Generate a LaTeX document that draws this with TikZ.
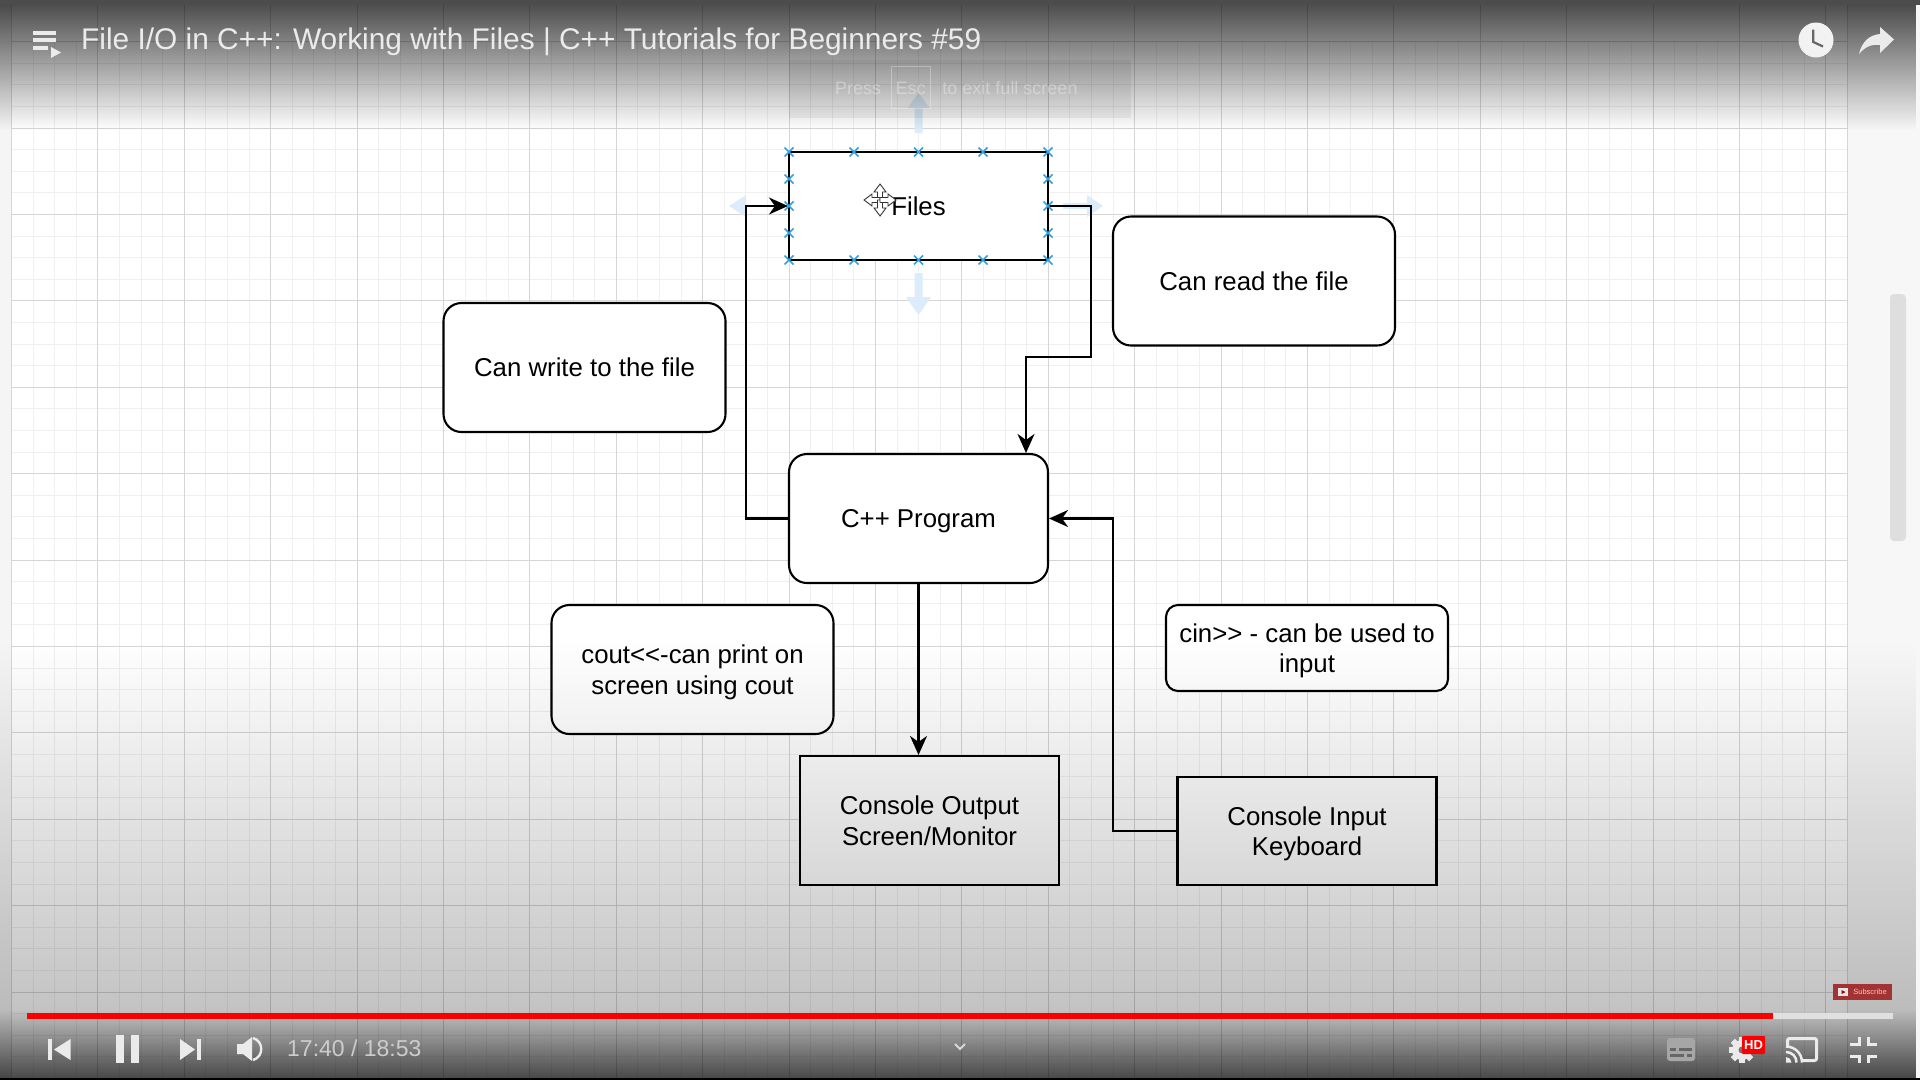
\documentclass[tikz,border=0pt]{standalone}
\usepackage{fontspec}
\setmainfont{Liberation Sans}
\usepackage{tikz}
\usetikzlibrary{arrows.meta}
\usetikzlibrary{positioning,fadings,shapes.misc}

\definecolor{hintblue}{RGB}{220,236,250}
\definecolor{handleblue}{RGB}{50,160,220}
\definecolor{ytred}{RGB}{250,0,0}
\newcommand{\lineup}{\rule[-6pt]{0pt}{30.5pt}}

\tikzset{
    softbox/.style={draw=black, fill=white, line width=2.1pt, rounded corners=18pt, align=center, font=\fontsize{25.8}{30.5}\selectfont},
    sharpbox/.style={draw=black, fill=white, line width=2.1pt, align=center, font=\fontsize{25.8}{30.5}\selectfont},
    link/.style={draw=black, line width=2.1pt, -{Stealth[length=19pt,width=17pt,inset=6pt]}},
    minorline/.style={black!6, line width=0.8pt},
    majorline/.style={black!16, line width=1pt},
    handlemark/.style={cross out, draw=handleblue, line width=1.5pt, minimum size=7.5pt, inner sep=0pt},
    chrome/.style={white!92!black},
    titletext/.style={text=white!92!black, font=\fontsize{29.86}{34}\selectfont},
}
\tikzfading[name=fadetop, top color=transparent!28, bottom color=transparent!100]
\tikzfading[name=fadebottom, top color=transparent!100, bottom color=transparent!72]
\tikzfading[name=fadeplayer, top color=transparent!100, bottom color=transparent!38]

\begin{document}
\begin{tikzpicture}[x=1pt,y=-1pt]
    \useasboundingbox (0,0) rectangle (1920,1080);
    \clip (0,0) rectangle (1920,1080);

    % page and grid
    \fill[white] (0,0) rectangle (1920,1080);
    \fill[black!4] (0,0) rectangle (11.4,1080);
    \fill[black!3] (1847,0) rectangle (1920,1080);
    \foreach \i in {0,...,84} {
        \draw[minorline] ({11.4+21.6*\i},41.6) -- ({11.4+21.6*\i},1080);
    }
    \foreach \i in {0,...,48} {
        \draw[minorline] (11.4,{41.6+21.6*\i}) -- (1847,{41.6+21.6*\i});
    }
    \foreach \i in {0,...,21} {
        \draw[majorline] ({11.4+86.4*\i},5) -- ({11.4+86.4*\i},1080);
    }
    \foreach \i in {0,...,12} {
        \draw[majorline] (11.4,{41.6+86.4*\i}) -- (1847,{41.6+86.4*\i});
    }
    \draw[majorline] (1847,5) -- (1847,1080);
    \fill[black!13, rounded corners=4pt] (1890,294) rectangle (1906,541);

    % hint arrows round the selected box
    \fill[hintblue] (914.5,133) -- (914.5,108) -- (907.5,108) -- (918.5,93) -- (929.5,108) -- (922.5,108) -- (922.5,133) -- cycle;
    \fill[hintblue] (914.5,273) -- (914.5,297) -- (906,297) -- (918.5,315) -- (931,297) -- (922.5,297) -- (922.5,273) -- cycle;
    \fill[hintblue] (729,206) -- (746,195) -- (746,217) -- cycle;
    \fill[hintblue] (1103,206) -- (1087,195) -- (1087,217) -- cycle;
    \fill[hintblue] (1063,203) rectangle (1087,209);

    % boxes
    \draw (918.5,206) node[sharpbox, minimum width=259pt, minimum height=108pt] (files) {\lineup Files};
    \draw (1254,281) node[softbox, minimum width=282pt, minimum height=129pt] (canread) {\lineup Can read the file};
    \draw (584.5,367.5) node[softbox, minimum width=282pt, minimum height=129pt] (canwrite) {\lineup Can write to the file};
    \draw (918.5,518.5) node[softbox, minimum width=259pt, minimum height=129pt] (program) {\lineup C++ Program};
    \draw (692.5,669.5) node[softbox, minimum width=282pt, minimum height=129pt] (coutnote) {\lineup cout<{}<-can print on\\\lineup screen using cout};
    \draw (1307,648) node[softbox, rounded corners=12pt, minimum width=282pt, minimum height=86pt] (cinnote) {\lineup cin>{}> - can be used to\\\lineup input};
    \draw (929.5,820.5) node[sharpbox, minimum width=259pt, minimum height=129pt] (output) {\lineup Console Output\\\lineup Screen/Monitor};
    \draw (1307,831) node[sharpbox, minimum width=259pt, minimum height=108pt] (input) {\lineup Console Input\\\lineup Keyboard};

    % connectors
    \coordinate (writebend) at (746,518.5);
    \coordinate (readbend) at (1091,357);
    \coordinate (readdrop) at (1026,357);
    \coordinate (inputbend) at (1113,831);
    \draw[link] (program.west) -- (writebend) |- (files.west);
    \draw[link] (files.east) -| (readbend) -- (readdrop) -- (readdrop |- program.north);
    \draw[link] (program.south) -- (output.north -| program.south);
    \draw[link] (input.west) -- (inputbend) |- (program.east);

    % selection handles
    \foreach \hx/\hy [count=\i] in {789/152,854/152,918.5/152,983/152,1048/152,
            789/260,854/260,918.5/260,983/260,1048/260,
            789/179,789/206,789/233,1048/179,1048/206,1048/233} {
        \node[handlemark] (handle\i) at (\hx,\hy) {};
    }

    % move cursor
    \foreach \r in {0,90,180,270} {
        \filldraw[fill=white, draw=black!80, line width=0.9pt, rotate around={\r:(880,200)}]
            (877.5,200) -- (877.5,192) -- (874,192) -- (880,184) -- (886,192) -- (882.5,192) -- (882.5,200) -- cycle;
    }

    % player shading
    \fill[black, path fading=fadetop] (0,0) rectangle (1920,130);
    \fill[black, path fading=fadebottom] (0,640) rectangle (1920,1080);
    \fill[black, path fading=fadeplayer] (0,1010) rectangle (1920,1080);
    \fill[black!70] (0,0) rectangle (1920,5);
    \fill[black] (0,1078) rectangle (1920,1080);

    % esc notice
    \fill[black, opacity=0.05] (789,60) rectangle (1131,118);
    \draw[white, opacity=0.3, line width=0.8pt] (891,66) rectangle (930,108);
    \node[text=white, text opacity=0.35, font=\fontsize{18}{20}\selectfont] (pressnote) at (858,88) {Press};
    \node[text=white, text opacity=0.35, font=\fontsize{18}{20}\selectfont] (escnote) at (910.5,88) {Esc};
    \node[text=white, text opacity=0.35, font=\fontsize{18}{20}\selectfont] (exitnote) at (1010,88) {to exit full screen};

    % top bar
    \fill[chrome] (33,31) rectangle (56,35);
    \fill[chrome] (33,38) rectangle (56,42);
    \fill[chrome] (33,46) rectangle (48,50);
    \fill[chrome] (51,47) -- (61,52.5) -- (51,58) -- cycle;
    \node[titletext, anchor=west, inner sep=0pt] (title) at (81,41.5) {File I/O in C++: Working with Files | C++ Tutorials for Beginners \#59};
    \fill[white!95!black] (1816,40) circle (17.5);
    \draw[black!60, line width=2.2pt] (1813.3,29.5) -- (1813.3,42) -- (1823,46.5);
    \fill[chrome] (1859,54) .. controls (1862,41) and (1870,35) .. (1880,34) -- (1880,27) -- (1894,39.5) -- (1880,53) -- (1880,45) .. controls (1871,44) and (1865,47) .. (1859,54) -- cycle;

    % progress
    \fill[white!88!black] (1773,1013) rectangle (1893,1019);
    \fill[ytred] (27,1013) rectangle (1773,1019);
    \fill[red!55!black!80!white] (1833,984) rectangle (1892,1000);
    \fill[white!90!black] (1838,988) rectangle (1848,996);
    \fill[red!60!black] (1841.5,990) -- (1845.5,992) -- (1841.5,994) -- cycle;
    \node[text=white!75!red, font=\fontsize{7.5}{8}\selectfont, inner sep=0pt] (subscribe) at (1870,992) {Subscribe};

    % player buttons
    \fill[chrome] (48,1039) rectangle (52,1060);
    \fill[chrome] (70.5,1039) -- (54,1049.5) -- (70.5,1060) -- cycle;
    \fill[chrome] (116,1035) rectangle (124,1063);
    \fill[chrome] (131,1035) rectangle (139,1063);
    \fill[chrome] (180,1039) -- (195,1049.5) -- (180,1060) -- cycle;
    \fill[chrome] (197,1039) rectangle (201,1060);
    \fill[chrome] (237,1044) -- (243,1044) -- (252,1037) -- (252,1061) -- (243,1054) -- (237,1054) -- cycle;
    \draw[chrome, line width=2.4pt] (253,1038) .. controls (264,1041) and (264,1057) .. (253,1060);
    \node[text=white!80!black, font=\fontsize{23}{26}\selectfont, anchor=west, inner sep=0pt] (timer) at (287,1048) {17:40 / 18:53};
    \draw[white!85!black, line width=2pt] (955,1044) -- (960,1049) -- (965,1044);
    \fill[black!35, rounded corners=3pt] (1667,1038) rectangle (1695,1061);
    \fill[black!60] (1670,1048) rectangle (1676,1051);
    \fill[black!60] (1679,1048) rectangle (1692,1051);
    \fill[black!60] (1670,1054) rectangle (1684,1057);
    \fill[black!60] (1687,1054) rectangle (1692,1057);
    \fill[chrome] (1742,1050) circle (10);
    \foreach \r in {0,45,...,315} {
        \fill[chrome, rotate around={\r:(1742,1050)}] (1739,1037) rectangle (1745,1045);
    }
    \fill[black!55] (1742,1050) circle (3.5);
    \fill[ytred, rounded corners=1pt] (1742,1036) rectangle (1765,1054);
    \node[text=white, font=\bfseries\fontsize{13}{14}\selectfont, inner sep=0pt] (hdbadge) at (1753.5,1045) {HD};
    \draw[chrome, line width=3pt, rounded corners=2pt] (1787.5,1046) -- (1787.5,1038.5) -- (1816.5,1038.5) -- (1816.5,1060.5) -- (1801,1060.5);
    \fill[chrome] (1786,1062.5) -- (1786,1057) .. controls (1789,1057) and (1791.5,1059.5) .. (1791.5,1062.5) -- cycle;
    \draw[chrome, line width=2.5pt] (1786,1052) .. controls (1792,1052) and (1796.5,1056.5) .. (1796.5,1062.5);
    \draw[chrome, line width=2.5pt] (1786,1046.5) .. controls (1795,1046.5) and (1802,1053.5) .. (1802,1062.5);
    \draw[chrome, line width=3pt] (1850,1044) -- (1859,1044) -- (1859,1037);
    \draw[chrome, line width=3pt] (1877,1044) -- (1868,1044) -- (1868,1037);
    \draw[chrome, line width=3pt] (1850,1056) -- (1859,1056) -- (1859,1063);
    \draw[chrome, line width=3pt] (1877,1056) -- (1868,1056) -- (1868,1063);
\end{tikzpicture}
\end{document}
